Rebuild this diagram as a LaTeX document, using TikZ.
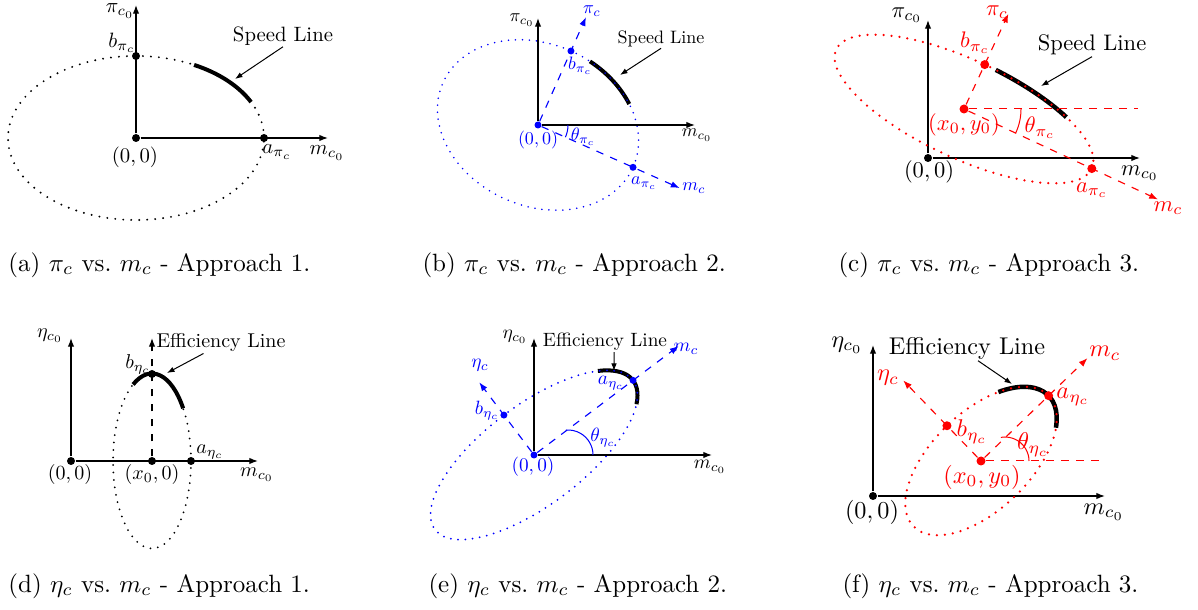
\documentclass[tikz,border=0pt]{standalone}
\usetikzlibrary{arrows.meta}
\begin{document}
\begin{tikzpicture}[x=0.4pt,y=0.4pt,
 axis/.style={line width=0.5pt,-{Latex[length=3.5pt,width=2.6pt]}},
 dax/.style={dashed, line width=0.45pt,-{Latex[length=3.5pt,width=2.6pt]}},
 dln/.style={dashed, line width=0.4pt},
 ell/.style 2 args={line width=#1, line cap=round, dash pattern=on 0pt off #2},
 spd/.style={line width=1.6pt},
 pnt/.style={circle, fill, inner sep=0pt, minimum size=#1},
 lead/.style={line width=0.4pt,-{Latex[length=3pt,width=2.2pt]}},
 tharc/.style={line width=0.4pt},
 captxt/.style={anchor=west, inner sep=0pt}]
\useasboundingbox (0,0) rectangle (1198,-610);

% ---------------- (a)
\begin{scope}[lbl/.style={scale=0.83, inner sep=0.5pt}]
\node[pnt=3.2pt] (Oa) at (136,-138) {};
\coordinate (Ya) at (136,-5);
\coordinate (Xa) at (328,-138);
\draw[axis] (Oa) -- (Ya);
\draw[axis] (Oa) -- (Xa);
\draw[spd] ({136+128*cos(63)},{-138+82*sin(63)}) arc[start angle=63,end angle=26,x radius=128,y radius=82];
\draw[ell={0.85pt}{3.2pt}] (Oa.center) ellipse [x radius=128, y radius=82];
\node[pnt=3.2pt] (Ba) at (136,-56) {};
\node[pnt=3.2pt] (Aa) at (264,-138) {};
\node[lbl] (la1) at (120,-11) {$\pi_{c_0}$};
\node[lbl] (la2) at (327,-153) {$m_{c_0}$};
\node[lbl] (la3) at (122,-43) {$b_{\pi_c}$};
\node[lbl] (la4) at (277,-152) {$a_{\pi_c}$};
\node[lbl] (la5) at (135,-157) {$(0,0)$};
\node[lbl] (SLa) at (283,-36) {Speed Line};
\coordinate (sla) at (235,-79);
\draw[lead] (SLa.south) -- (sla);
\end{scope}

% ---------------- (b)
\begin{scope}[lbl/.style={scale=0.72, inner sep=0.5pt}]
\node[pnt=2.8pt, blue] (Ob) at (538,-125) {};
\coordinate (Yb) at (538,-18);
\coordinate (Xb) at (695,-125);
\begin{scope}[shift={(538,-125)},rotate=-24]
 \draw[spd] ({104*cos(78)},{81*sin(78)}) arc[start angle=78,end angle=44,x radius=104,y radius=81];
 \draw[blue, ell={0.7pt}{2.8pt}] (0,0) ellipse [x radius=104, y radius=81];
 \node[pnt=2.8pt, blue] (Ab) at (104,0) {};
 \node[pnt=2.8pt, blue] (Bb) at (0,81) {};
 \coordinate (Mb) at (155,0);
 \coordinate (Pb) at (0,118);
\end{scope}
\draw[axis] (Ob) -- (Yb);
\draw[axis] (Ob) -- (Xb);
\draw[dax, blue] (Ob) -- (Mb);
\draw[dax, blue] (Ob) -- (Pb);
\draw[tharc, blue] (568,-125) arc[start angle=0,end angle=-24,radius=30];
\node[lbl] (lb1) at (522,-20) {$\pi_{c_0}$};
\node[lbl] (lb2) at (697,-135) {$m_{c_0}$};
\node[lbl, blue] (lb3) at (592,-11) {$\pi_c$};
\node[lbl, blue] (lb4) at (580,-66) {$b_{\pi_c}$};
\node[lbl, blue] (lb5) at (583,-137) {$\theta_{\pi_c}$};
\node[lbl, blue] (lb6) at (538,-140) {$(0,0)$};
\node[lbl, blue] (lb7) at (644,-183) {$a_{\pi_c}$};
\node[lbl, blue] (lb8) at (694,-188) {$m_c$};
\node[lbl] (SLb) at (661,-39) {Speed Line};
\coordinate (slb) at (620,-75);
\draw[lead] (SLb.south) -- (slb);
\end{scope}

% ---------------- (c)
\begin{scope}[lbl/.style={scale=0.9, inner sep=0.5pt}]
\node[pnt=3.2pt] (Oc) at (928,-158) {};
\node[pnt=3.6pt, red] (Cc) at (964,-109) {};
\coordinate (Yc) at (928,-20);
\coordinate (Xc) at (1140,-158);
\coordinate (Hc) at (1138,-109);
\draw[axis] (Oc) -- (Yc);
\draw[axis] (Oc) -- (Xc);
\begin{scope}[shift={(964,-109)},rotate=-25]
 \draw[spd, line width=1.8pt] ({141*cos(85)},{49*sin(85)}) arc[start angle=85,end angle=47,x radius=141,y radius=49];
 \draw[red, ell={1pt}{3.2pt}] (0,0) ellipse [x radius=141, y radius=49];
 \node[pnt=3.6pt, red] (Ac) at (141,0) {};
 \node[pnt=3.6pt, red] (Bc) at (0,49) {};
 \coordinate (Mc) at (214,0);
 \coordinate (Pc) at (0,105);
\end{scope}
\draw[dax, red] (Cc) -- (Mc);
\draw[dax, red] (Cc) -- (Pc);
\draw[dln, red] (Cc) -- (Hc);
\draw[tharc, red] (1021,-109) arc[start angle=0,end angle=-25,radius=57];
\node[lbl] (lc1) at (907,-15) {$\pi_{c_0}$};
\node[lbl, red] (lc2) at (997,-12) {$\pi_c$};
\node[lbl, red] (lc3) at (975,-43) {$b_{\pi_c}$};
\node[lbl, red] (lc4) at (964,-125) {$(x_0,y_0)$};
\node[lbl, red] (lc5) at (1040,-128) {$\theta_{\pi_c}$};
\node[lbl] (lc6) at (929,-172) {$(0,0)$};
\node[lbl] (lc7) at (1140,-173) {$m_{c_0}$};
\node[lbl, red] (lc8) at (1092,-190) {$a_{\pi_c}$};
\node[lbl, red] (lc9) at (1168,-208) {$m_c$};
\node[lbl] (SLc) at (1092,-45) {Speed Line};
\coordinate (slc) at (1041,-86);
\draw[lead] (SLc.south) -- (slc);
\end{scope}

% ---------------- (d)
\begin{scope}[lbl/.style={scale=0.8, inner sep=0.5pt}]
\node[pnt=3.2pt] (Od) at (71,-461) {};
\node[pnt=3.2pt] (Cd) at (152,-461) {};
\coordinate (Yd) at (71,-338);
\coordinate (Xd) at (258,-461);
\coordinate (Vd) at (152,-338);
\node[pnt=3.2pt] (Ad) at (191,-461) {};
\node[pnt=3.2pt] (Bd) at (152,-374) {};
\draw[axis] (Od) -- (Yd);
\draw[axis] (Od) -- (Xd);
\draw[dax] (Cd) -- (Vd);
\draw[dln] (Cd) -- (Ad);
\draw[spd] ({152+39*cos(119)},{-461+87.5*sin(119)}) arc[start angle=119,end angle=37,x radius=39,y radius=87.5];
\draw[ell={0.8pt}{3pt}] (Cd.center) ellipse [x radius=39, y radius=87.5];
\node[lbl] (ld1) at (50,-336) {$\eta_{c_0}$};
\node[lbl] (ld2) at (138,-364) {$b_{\eta_c}$};
\node[lbl] (ld3) at (210,-452) {$a_{\eta_c}$};
\node[lbl] (ld4) at (70,-475) {$(0,0)$};
\node[lbl] (ld5) at (152,-475) {$(x_0,0)$};
\node[lbl] (ld6) at (257,-475) {$m_{c_0}$};
\node[lbl] (ELd) at (221,-343) {Efficiency Line};
\coordinate (eld) at (167,-373);
\draw[lead] ([xshift=-7pt]ELd.south) -- (eld);
\end{scope}

% ---------------- (e)
\begin{scope}[lbl/.style={scale=0.77, inner sep=0.5pt}]
\node[pnt=2.8pt, blue] (Oe) at (534,-455) {};
\coordinate (Ye) at (534,-338);
\coordinate (Xe) at (712,-455);
\begin{scope}[shift={(534,-455)},rotate=37]
 \draw[spd] ({124*cos(35)},{50*sin(35)}) arc[start angle=35,end angle=-25,x radius=124,y radius=50];
 \draw[blue, ell={0.8pt}{2.9pt}] (0,0) ellipse [x radius=124, y radius=50];
 \node[pnt=2.8pt, blue] (Ae) at (124,0) {};
 \node[pnt=2.8pt, blue] (Be) at (0,50) {};
 \coordinate (Me) at (181,0);
 \coordinate (Pe) at (0,91);
\end{scope}
\draw[axis] (Oe) -- (Ye);
\draw[axis] (Oe) -- (Xe);
\draw[dax, blue] (Oe) -- (Me);
\draw[dax, blue] (Oe) -- (Pe);
\draw[tharc, blue] (593,-455) arc[start angle=0,end angle=95,radius=25];
\node[lbl] (le1) at (515,-337) {$\eta_{c_0}$};
\node[lbl, blue] (le2) at (686,-349) {$m_c$};
\node[lbl, blue] (le3) at (480,-365) {$\eta_c$};
\node[lbl, blue] (le4) at (611,-383) {$a_{\eta_c}$};
\node[lbl, blue] (le5) at (487,-411) {$b_{\eta_c}$};
\node[lbl, blue] (le6) at (603,-438) {$\theta_{\eta_c}$};
\node[lbl, blue] (le7) at (533,-467) {$(0,0)$};
\node[lbl] (le8) at (710,-467) {$m_{c_0}$};
\node[lbl] (ELe) at (605,-342) {Efficiency Line};
\coordinate (ele) at (614,-371);
\draw[lead] ([xshift=3.6pt]ELe.south) -- (ele);
\end{scope}

% ---------------- (f)
\begin{scope}[lbl/.style={scale=0.97, inner sep=0.5pt}]
\node[pnt=3.2pt] (Of) at (873,-496) {};
\node[pnt=3.6pt, red] (Cf) at (981,-461) {};
\coordinate (Yf) at (873,-345);
\coordinate (Xf) at (1105,-496);
\coordinate (Hf) at (1105,-461);
\draw[axis] (Of) -- (Yf);
\draw[axis] (Of) -- (Xf);
\begin{scope}[shift={(981,-461)},rotate=44]
 \draw[spd, line width=1.8pt] ({94*cos(50)},{49*sin(50)}) arc[start angle=50,end angle=-35,x radius=94,y radius=49];
 \draw[red, ell={1pt}{3.2pt}] (0,0) ellipse [x radius=94, y radius=49];
 \node[pnt=3.6pt, red] (Af) at (94,0) {};
 \node[pnt=3.6pt, red] (Bf) at (0,49) {};
 \coordinate (Mf) at (148,0);
 \coordinate (Pf) at (0,112);
\end{scope}
\draw[dax, red] (Cf) -- (Mf);
\draw[dax, red] (Cf) -- (Pf);
\draw[dln, red] (Cf) -- (Hf);
\draw[tharc, red] (1029,-461) arc[start angle=0,end angle=100,radius=24];
\node[lbl] (lf1) at (847,-345) {$\eta_{c_0}$};
\node[lbl, red] (lf2) at (1105,-353) {$m_c$};
\node[lbl, red] (lf3) at (888,-378) {$\eta_c$};
\node[lbl, red] (lf4) at (1073,-397) {$a_{\eta_c}$};
\node[lbl, red] (lf5) at (972,-432) {$b_{\eta_c}$};
\node[lbl, red] (lf6) at (1033,-445) {$\theta_{\eta_c}$};
\node[lbl, red] (lf7) at (982,-477) {$(x_0,y_0)$};
\node[lbl] (lf8) at (872,-512) {$(0,0)$};
\node[lbl] (lf9) at (1104,-512) {$m_{c_0}$};
\node[lbl] (ELf) at (967,-348) {Efficiency Line};
\coordinate (elf) at (1012,-384);
\draw[lead] ([xshift=4.4pt]ELf.south) -- (elf);
\end{scope}

% ---------------- captions
\node[captxt] (ca) at (8,-265) {(a) $\pi_c$ vs.\ $m_c$ - Approach 1.};
\node[captxt] (cb) at (422,-265) {(b) $\pi_c$ vs.\ $m_c$ - Approach 2.};
\node[captxt] (cc) at (838,-265) {(c) $\pi_c$ vs.\ $m_c$ - Approach 3.};
\node[captxt] (cd) at (8,-586) {(d) $\eta_c$ vs.\ $m_c$ - Approach 1.};
\node[captxt] (ce) at (428,-586) {(e) $\eta_c$ vs.\ $m_c$ - Approach 2.};
\node[captxt] (cf) at (842,-586) {(f) $\eta_c$ vs.\ $m_c$ - Approach 3.};
\end{tikzpicture}
\end{document}
